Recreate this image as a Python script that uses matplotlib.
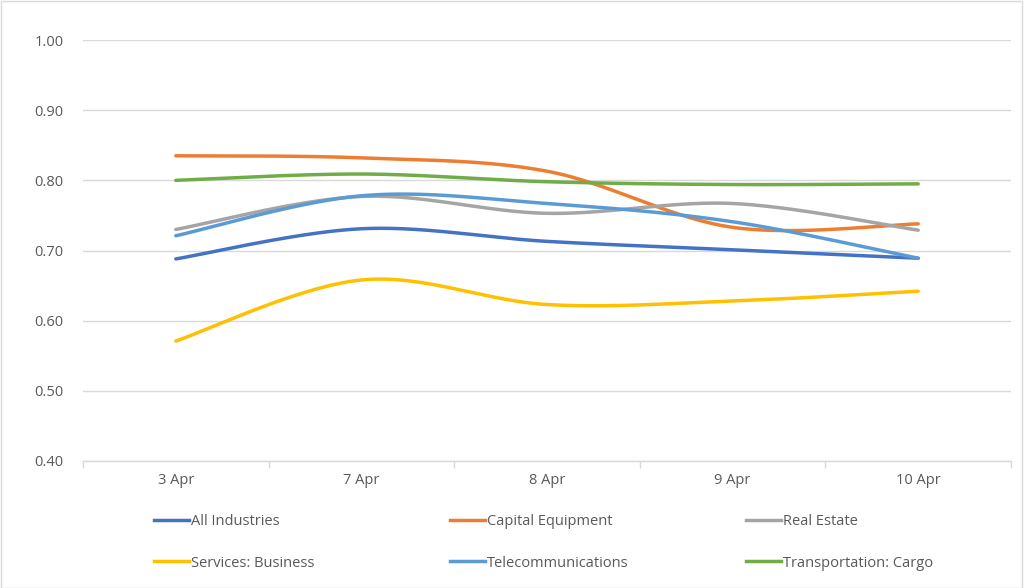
import numpy as np
import matplotlib
matplotlib.use("Agg")
import matplotlib.pyplot as plt
from matplotlib.lines import Line2D
from matplotlib.patches import Rectangle

categories = ["3 Apr", "7 Apr", "8 Apr", "9 Apr", "10 Apr"]
all_industries = [0.688, 0.731, 0.713, 0.701, 0.689]
capital_equipment = [0.835, 0.832, 0.813, 0.733, 0.738]
real_estate = [0.730, 0.777, 0.753, 0.767, 0.729]
services_business = [0.571, 0.658, 0.623, 0.628, 0.642]
telecommunications = [0.721, 0.778, 0.767, 0.741, 0.689]
transportation_cargo = [0.800, 0.809, 0.798, 0.794, 0.795]

series_names = ["All Industries", "Capital Equipment", "Real Estate",
                "Services: Business", "Telecommunications", "Transportation: Cargo"]
series_values = [all_industries, capital_equipment, real_estate,
                 services_business, telecommunications, transportation_cargo]
colors = ["#4472C4", "#ED7D31", "#A5A5A5", "#FFC000", "#5B9BD5", "#70AD47"]
yticks = [0.40, 0.50, 0.60, 0.70, 0.80, 0.90, 1.00]


def smooth(xs, ys, n=60):
    """Excel-like smoothed line: cubic Bezier segments with Catmull-Rom tangents."""
    xs = np.asarray(xs, float)
    ys = np.asarray(ys, float)
    px, py = [], []
    m = len(xs)
    for i in range(m - 1):
        x0, y0 = xs[i], ys[i]
        x3, y3 = xs[i + 1], ys[i + 1]
        xp, yp = (xs[i - 1], ys[i - 1]) if i > 0 else (x0, y0)
        xn, yn = (xs[i + 2], ys[i + 2]) if i + 2 < m else (x3, y3)
        x1, y1 = x0 + (x3 - xp) / 6, y0 + (y3 - yp) / 6
        x2, y2 = x3 - (xn - x0) / 6, y3 - (yn - y0) / 6
        t = np.linspace(0, 1, n)
        bx = (1 - t) ** 3 * x0 + 3 * (1 - t) ** 2 * t * x1 + 3 * (1 - t) * t ** 2 * x2 + t ** 3 * x3
        by = (1 - t) ** 3 * y0 + 3 * (1 - t) ** 2 * t * y1 + 3 * (1 - t) * t ** 2 * y2 + t ** 3 * y3
        px.extend(bx)
        py.extend(by)
    return np.array(px), np.array(py)


plt.rcParams["font.family"] = ["Open Sans", "DejaVu Sans"]
text_color = "#595959"
fs = 10.5

fig = plt.figure(figsize=(10.24, 5.88), dpi=100)
fig.patches.append(Rectangle((0.0005, 0.0008), 0.998, 0.998, transform=fig.transFigure,
                             fill=False, edgecolor="#D9D9D9", linewidth=1.0))
ax = fig.add_axes([83 / 1024, 1 - 461 / 588, 928 / 1024, 421 / 588])

x = np.arange(len(categories))
for name, vals, c in zip(series_names, series_values, colors):
    sx, sy = smooth(x, vals)
    ax.plot(sx, sy, color=c, linewidth=2.5, solid_capstyle="round", label=name)

ax.set_xlim(-0.5, len(categories) - 0.5)
ax.set_ylim(0.40, 1.00)
ax.set_yticks(yticks)
ax.set_yticklabels([f"{v:.2f}" for v in yticks])
ax.set_xticks(x)
ax.set_xticklabels(categories)
ax.set_xticks(np.arange(-0.5, len(categories), 1.0), minor=True)
ax.tick_params(axis="x", which="major", length=0, pad=9, labelsize=fs, labelcolor=text_color)
ax.tick_params(axis="x", which="minor", length=5, color="#D9D9D9", width=1)
ax.tick_params(axis="y", length=0, pad=14, labelsize=fs, labelcolor=text_color)
ax.grid(axis="y", color="#D9D9D9", linewidth=1)
ax.set_axisbelow(True)
for s in ["top", "right", "left"]:
    ax.spines[s].set_visible(False)
ax.spines["bottom"].set_color("#D9D9D9")
ax.spines["bottom"].set_linewidth(1)

handles = [Line2D([0], [0], color=c, linewidth=2.5) for c in colors]
col_x = [154 / 1024, 450 / 1024, 746 / 1024]
for ci in range(3):
    hs = [handles[ci], handles[ci + 3]]
    ls = [series_names[ci], series_names[ci + 3]]
    fig.legend(hs, ls, loc="upper left", bbox_to_anchor=(col_x[ci], 1 - 514 / 588),
               frameon=False, ncol=1, handlelength=2.4, handletextpad=0.15,
               labelspacing=1.82, fontsize=fs, labelcolor=text_color, borderpad=0,
               borderaxespad=0)

fig.savefig("out.png", dpi=100)
